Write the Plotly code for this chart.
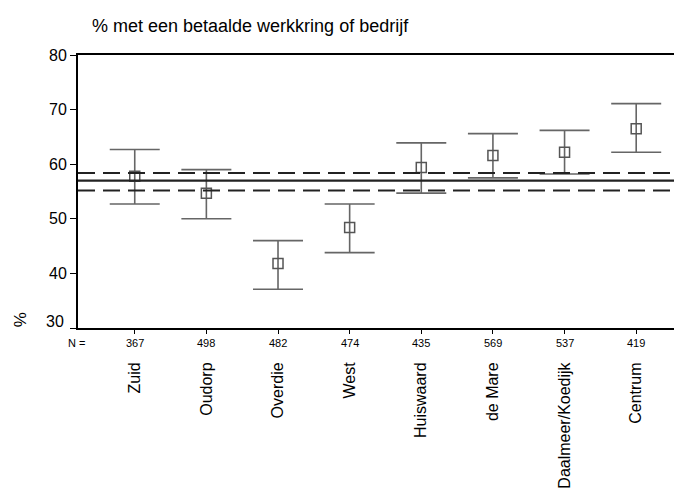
import plotly.graph_objects as go

# Wijken, percentage met betaalde werkkring en 95%-betrouwbaarheidsinterval
wijken = ["Zuid", "Oudorp", "Overdie", "West", "Huiswaard", "de Mare",
          "Daalmeer/Koedijk", "Centrum"]
n_resp = [367, 498, 482, 474, 435, 569, 537, 419]
pct = [57.8, 54.7, 41.8, 48.4, 59.4, 61.6, 62.2, 66.5]
ci_low = [52.7, 50.0, 37.1, 43.8, 54.7, 57.5, 58.2, 62.2]
ci_high = [62.7, 59.0, 46.0, 52.7, 63.9, 65.6, 66.2, 71.1]

# Gemiddelde van de hele stad met interval
stad_pct = 57.0
stad_low = 55.2
stad_high = 58.4

y_ticks = [30, 40, 50, 60, 70, 80]

FONT = "Arial, Liberation Sans, sans-serif"

x = list(range(len(wijken)))

fig = go.Figure()

fig.add_trace(go.Scatter(
    x=x, y=pct,
    mode="markers",
    marker=dict(symbol="square-open", size=10, color="#555555",
                line=dict(width=1.5, color="#555555")),
    error_y=dict(type="data", symmetric=False,
                 array=[h - p for h, p in zip(ci_high, pct)],
                 arrayminus=[p - l for l, p in zip(ci_low, pct)],
                 color="#666666", thickness=1.6, width=25),
    showlegend=False,
    hoverinfo="skip",
))

# Referentielijnen (stad)
fig.add_hline(y=stad_pct, line=dict(color="#222222", width=2.2))
fig.add_hline(y=stad_low, line=dict(color="#222222", width=2, dash="17px,8px"))
fig.add_hline(y=stad_high, line=dict(color="#222222", width=2, dash="17px,8px"))

# N-regel onder de as
fig.add_annotation(x=-0.666, y=0, xref="x", yref="paper", yshift=-15,
                   yanchor="middle", xanchor="right",
                   text="N =", showarrow=False,
                   font=dict(family=FONT, size=11, color="#000000"))
for i, n in enumerate(n_resp):
    fig.add_annotation(x=i, y=0, xref="x", yref="paper", yshift=-15,
                       yanchor="middle",
                       text=str(n), showarrow=False,
                       font=dict(family=FONT, size=11, color="#000000"))

# 30 staat iets boven de as
fig.add_annotation(x=0, y=30, xref="paper", yref="y", xshift=-12, yshift=7,
                   xanchor="right", yanchor="middle", text="30",
                   showarrow=False,
                   font=dict(family=FONT, size=16, color="#000000"))

# y-as titel laag links
fig.add_annotation(x=-0.094, y=31.5, xref="paper", yref="y", text="%",
                   showarrow=False, textangle=-90,
                   xanchor="center", yanchor="middle",
                   font=dict(family=FONT, size=17, color="#000000"))

fig.update_layout(
    width=682, height=488,
    margin=dict(l=70, r=0, t=47, b=168, pad=0),
    paper_bgcolor="white",
    plot_bgcolor="white",
    font=dict(family=FONT, size=13, color="#000000"),
    title=dict(text="% met een betaalde werkkring of bedrijf",
               x=84 / 682, xanchor="left", y=1 - 18 / 488, yanchor="middle",
               font=dict(family=FONT, size=18, color="#000000")),
    xaxis=dict(
        range=[-0.792, 7.751],
        tickvals=x, ticktext=wijken, tickangle=-90,
        ticks="outside", ticklen=4, tickcolor="#000000",
        ticklabelstandoff=22,
        showline=True, linecolor="#000000", linewidth=2, mirror=True,
        showgrid=False, zeroline=False,
        tickfont=dict(family=FONT, size=16),
    ),
    yaxis=dict(
        range=[30, 80],
        tickvals=y_ticks, ticktext=[""] + [str(v) for v in y_ticks[1:]],
        ticks="outside", ticklen=6, tickcolor="#000000",
        showline=True, linecolor="#000000", linewidth=2,
        showgrid=False, zeroline=False,
        tickfont=dict(family=FONT, size=16),
    ),
)

fig.write_html("out.html")
